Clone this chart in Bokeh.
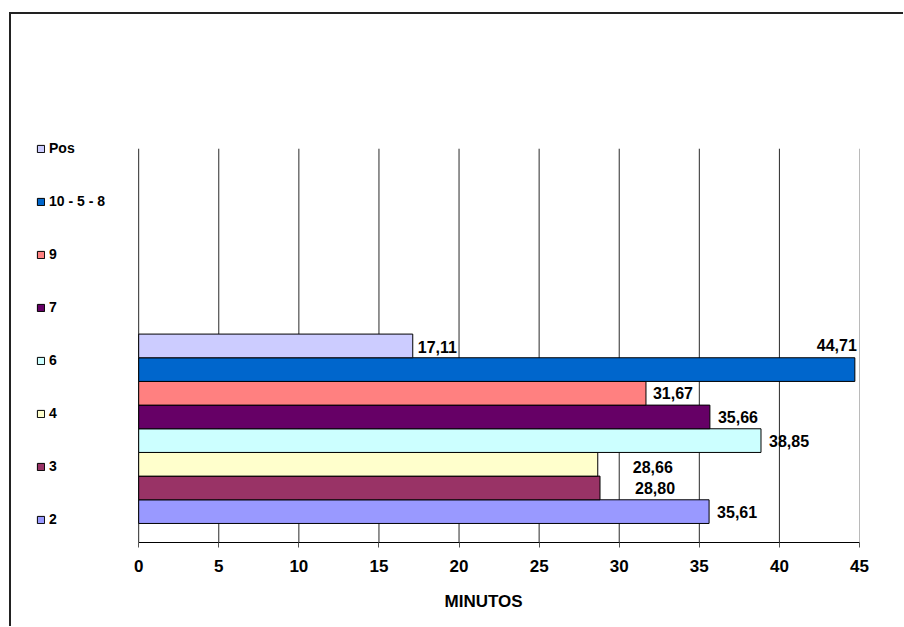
from bokeh.plotting import figure
from bokeh.models import ColumnDataSource, LabelSet, Legend, LegendItem, FixedTicker, Title
from bokeh.core.properties import value
from bokeh.embed import file_html
from bokeh.resources import INLINE

# ---- data ----
categories = ["2", "3", "4", "6", "7", "9", "10 - 5 - 8", "Pos"]
values = [35.61, 28.80, 28.66, 38.85, 35.66, 31.67, 44.71, 17.11]
colors = ["#9999FF", "#993366", "#FFFFCC", "#CCFFFF", "#660066", "#FF8080", "#0066CC", "#CCCCFF"]
x_ticks = [0, 5, 10, 15, 20, 25, 30, 35, 40, 45]
axis_title = "MINUTOS"

# ---- label placement (styling, in pixels) ----
label_style = {
    "2": (8, 0, "left"),
    "3": (35, 0, "left"),
    "4": (35, -3, "left"),
    "6": (8, 0, "left"),
    "7": (8, 0, "left"),
    "9": (7, 0, "left"),
    "10 - 5 - 8": (2, 25, "right"),
    "Pos": (5, -1, "left"),
}

FONT = "Liberation Sans"
X_MIN, X_MAX = x_ticks[0], x_ticks[-1]
Y_LO, Y_HI = -1.304, 21.0     # frame extent (layout)
GRID_TOP = 15.33               # where the plot-area gridlines end (layout)

p = figure(width=894, height=614,
           x_range=(-7.94, X_MAX), y_range=(Y_LO, Y_HI),
           output_backend="svg", toolbar_location=None,
           min_border_left=0, min_border_right=46,
           min_border_top=0, min_border_bottom=86,
           margin=(12, 0, 0, 9),
           styles={"border-left": "2px solid #222", "border-top": "2px solid #222"})

p.outline_line_color = None
p.background_fill_color = "white"
p.border_fill_color = "white"

# gridlines (only inside the plot area)
inner = x_ticks[:-1]
p.segment(x0=inner, y0=[Y_LO] * len(inner), x1=inner, y1=[GRID_TOP] * len(inner),
          line_color="#2a2a2a", line_width=1)
p.segment(x0=[X_MAX], y0=[Y_LO], x1=[X_MAX], y1=[GRID_TOP],
          line_color="#777777", line_width=1)

ypos = list(range(len(categories)))
renderers = []
for i, (cat, val, col) in enumerate(zip(categories, values, colors)):
    src = ColumnDataSource(dict(y=[ypos[i]], right=[val]))
    r = p.hbar(y="y", right="right", left=0, height=1.0, source=src,
               fill_color=col, line_color="black", line_width=1)
    renderers.append((cat, r))

# value labels
lab_src = ColumnDataSource(dict(
    x=values, y=ypos,
    text=[f"{v:.2f}".replace(".", ",") for v in values],
    xo=[label_style[c][0] for c in categories],
    yo=[label_style[c][1] for c in categories],
    align=[label_style[c][2] for c in categories],
))
labels = LabelSet(x="x", y="y", text="text", x_offset="xo", y_offset="yo",
                  text_align="align", text_baseline="middle",
                  text_font=value(FONT), text_font_style="bold", text_font_size="16px",
                  text_color="black", source=lab_src)
p.add_layout(labels)

# axes
p.xaxis.ticker = FixedTicker(ticks=x_ticks)
p.xaxis.bounds = (X_MIN, X_MAX)
p.xaxis.axis_line_color = "black"
p.xaxis.major_tick_line_color = "#555555"
p.xaxis.major_tick_out = 5
p.xaxis.major_tick_in = 0
p.xaxis.minor_tick_line_color = None
p.xaxis.major_label_text_font = FONT
p.xaxis.major_label_text_font_style = "bold"
p.xaxis.major_label_text_font_size = "17px"
p.xaxis.major_label_text_color = "black"
p.xaxis.major_label_standoff = 12

title = Title(text=axis_title, align="left", offset=433, standoff=31,
              text_font=FONT, text_font_style="bold", text_font_size="17px",
              text_color="black")
p.add_layout(title, "below")

p.yaxis.visible = False
p.ygrid.grid_line_color = None
p.xgrid.grid_line_color = None

# legend (top to bottom: Pos ... 2)
items = [LegendItem(label=cat, renderers=[r]) for cat, r in reversed(renderers)]
legend = Legend(items=items, location=(25, 15),
                glyph_width=9, glyph_height=9, label_height=14,
                spacing=37, padding=0, margin=0, label_standoff=4,
                label_text_font=FONT, label_text_font_style="bold",
                label_text_font_size="14px", label_text_color="black",
                border_line_color=None, background_fill_alpha=0)
p.add_layout(legend, "center")

open("out.html", "w").write(file_html(p, INLINE))
